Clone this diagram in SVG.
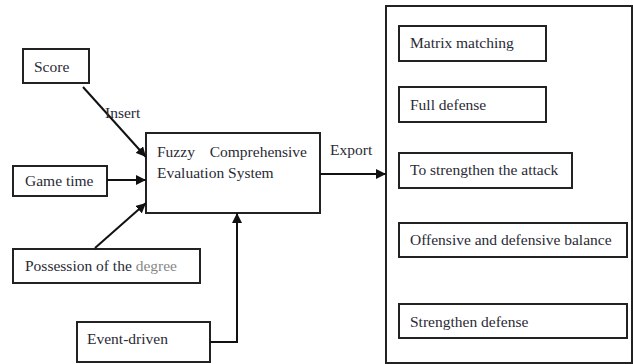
<svg xmlns="http://www.w3.org/2000/svg" width="633" height="364" viewBox="0 0 633 364">
<style>
.b{fill:#fff;stroke:#222;stroke-width:2}
.c{stroke:#111;stroke-width:2;fill:none}
</style>
<defs>
<marker id="ah" viewBox="0 0 10 10" refX="10" refY="5" markerWidth="5" markerHeight="5" orient="auto" markerUnits="strokeWidth">
<path d="M0,0L10,5L0,10z" fill="#111"/>
</marker>
</defs>
<rect width="633" height="364" fill="#fff"/>
<g font-family="Liberation Serif, serif" font-size="15.5" fill="#2a2a35">
<g id="output-panel"><rect class="b" x="386" y="6" width="246" height="357"/></g>
<g id="score"><rect class="b" x="23" y="49" width="66" height="34"/><text x="34" y="72">Score</text></g>
<g id="gametime"><rect class="b" x="13" y="166" width="94" height="30"/><text x="25" y="186">Game time</text></g>
<g id="possession"><rect class="b" x="13" y="249" width="187" height="34"/><text x="25" y="271">Possession of the <tspan fill="#888">degree</tspan></text></g>
<g id="event"><rect class="b" x="77" y="322" width="133" height="40"/><text x="87" y="344">Event-driven</text></g>
<g id="fuzzy"><rect class="b" x="146" y="133" width="174" height="80"/><text x="157" y="157">Fuzzy</text><text x="307" y="157" text-anchor="end">Comprehensive</text><text x="157" y="178">Evaluation System</text></g>
<g id="matrix"><rect class="b" x="399" y="26" width="147" height="35"/><text x="410" y="48">Matrix matching</text></g>
<g id="fulldef"><rect class="b" x="399" y="87" width="147" height="35"/><text x="410" y="110">Full defense</text></g>
<g id="attack"><rect class="b" x="399" y="153" width="173" height="35"/><text x="410" y="175">To strengthen the attack</text></g>
<g id="balance"><rect class="b" x="399" y="223" width="228" height="34"/><text x="410" y="245">Offensive and defensive balance</text></g>
<g id="strdef"><rect class="b" x="399" y="304" width="228" height="34"/><text x="410" y="327">Strengthen defense</text></g>
<g id="connectors">
<line class="c" x1="83" y1="87" x2="146" y2="157" marker-end="url(#ah)"/>
<line class="c" x1="107" y1="180" x2="146" y2="180" marker-end="url(#ah)"/>
<line class="c" x1="95" y1="248" x2="146" y2="203" marker-end="url(#ah)"/>
<polyline class="c" points="210,342 237,342 237,213" marker-end="url(#ah)"/>
<line class="c" x1="320" y1="174" x2="386" y2="174" marker-end="url(#ah)"/>
<text x="105" y="118">Insert</text>
<text x="330" y="155">Export</text>
</g>
</g>
</svg>
